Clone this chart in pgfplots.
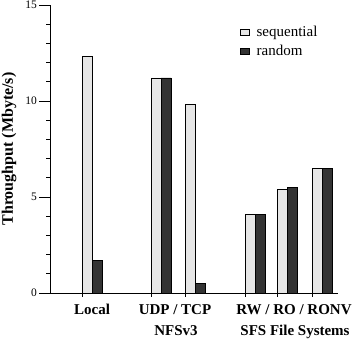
\documentclass[border=0pt]{standalone}
\usepackage{pgfplots}
\pgfplotsset{compat=1.18}
\usepackage{fontspec}
\setmainfont{Liberation Serif}
\definecolor{seqc}{HTML}{E6E6E6}
\definecolor{rndc}{HTML}{333333}
\begin{document}
\begin{tikzpicture}
\useasboundingbox (-50pt,-46pt) rectangle (302pt,293pt);
\begin{axis}[
  scale only axis,
  width=288pt, height=288pt,
  xmin=50, xmax=338, ymin=0, ymax=15,
  axis x line=bottom, axis y line=left,
  axis line style={-, line width=0.9pt},
  xtick=\empty,
  ytick={0,5,10,15},
  tick align=outside,
  major tick length=4.5pt,
  tick style={line width=0.9pt, black},
  yticklabel style={font=\fontsize{11.5}{13}\selectfont, xshift=-5pt},
  /pgf/number format/assume math mode=true,
  ylabel={\textbf{Throughput (Mbyte/s)}},
  every axis y label/.style={at={(rel axis cs:0,0.5)}, xshift=-41pt, rotate=90, anchor=center, font=\fontsize{16}{18}\selectfont},
  legend style={at={(axis cs:240,14.0)}, anchor=north west, draw=none, fill=none, inner sep=0pt,
    font=\fontsize{15}{17}\selectfont, row sep=3pt},
  legend cell align=left,
  legend image code/.code={\draw[#1, line width=0.8pt] (0pt,-3pt) rectangle (9pt,3pt); \path[draw=none, fill=none] (0pt,0pt) -- (14pt,0pt);},
  clip=false,
]
\addplot[ybar, bar width=10, bar shift=0pt, fill=seqc, draw=black, line width=0.8pt]
  coordinates {(87.5,12.3) (156,11.2) (190,9.8) (250,4.1) (282,5.4) (317,6.5)};
\addlegendentry{sequential}
\addplot[ybar, bar width=10, bar shift=0pt, fill=rndc, draw=black, line width=0.8pt]
  coordinates {(97.5,1.7) (166,11.2) (200,0.5) (260,4.1) (292,5.5) (327,6.5)};
\addlegendentry{random}
\pgfplotsinvokeforeach{1,2,3,4,6,7,8,9,11,12,13,14}{
  \draw[line width=0.9pt, black] (axis cs:50,#1) -- ++(-4.5pt,0pt);
}
\pgfplotsinvokeforeach{0,5,10,15}{
  \draw[line width=0.9pt, black] (axis cs:50,#1) -- ++(-11pt,0pt);
}
\pgfplotsinvokeforeach{82.5,151,185,245,277,312}{
  \draw[line width=0.9pt, black] (axis cs:#1,0) -- ++(0pt,-4pt);
}
\node[font=\fontsize{15}{18}\selectfont\bfseries, anchor=base] at (axis cs:92,0) [yshift=-21pt] {Local};
\node[font=\fontsize{15}{18}\selectfont\bfseries, anchor=base] at (axis cs:175,0) [yshift=-21pt] {UDP / TCP};
\node[font=\fontsize{15}{18}\selectfont\bfseries, anchor=base] at (axis cs:294,0) [yshift=-21pt] {RW / RO / RONV};
\node[font=\fontsize{15}{18}\selectfont\bfseries, anchor=base] at (axis cs:176,0) [yshift=-42pt] {NFSv3};
\node[font=\fontsize{15}{18}\selectfont\bfseries, anchor=base] at (axis cs:295,0) [yshift=-42pt] {SFS File Systems};
\end{axis}
\end{tikzpicture}
\end{document}
